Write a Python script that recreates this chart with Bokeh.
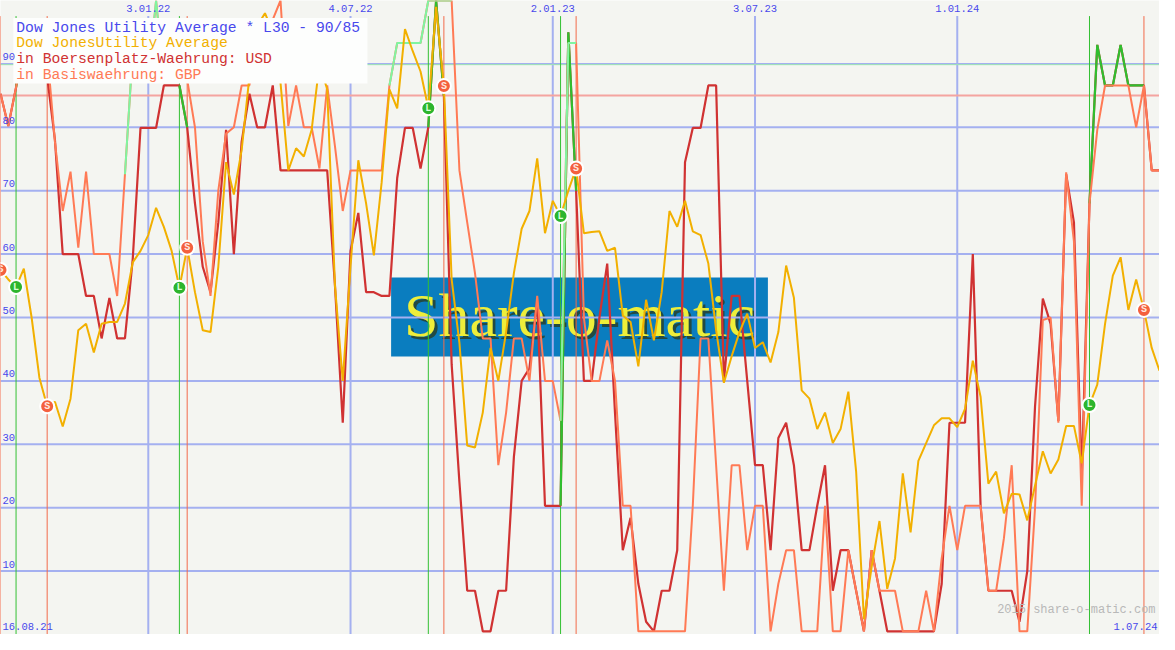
import numpy as np
import pandas as pd
from bokeh.plotting import figure
from bokeh.models import Range1d
from bokeh.core.properties import value
from bokeh.embed import file_html
from bokeh.resources import INLINE

# ---------------- data ----------------
first_week = "2021-08-23"
dates = pd.date_range(first_week, periods=150, freq="7D")

price = [57.5, 56, 54.8, 57.7, 50, 40.5, 36, 36.7, 32.8, 37.2,
         48, 49, 44.5, 49, 49.3, 49.3, 52.2, 58.7, 60.5, 63,
         67.3, 64.3, 60.5, 54.7, 61, 54, 48, 47.7, 58, 74.5,
         69.4, 76.4, 88, 96, 98, 95, 87, 73.2, 76.7, 75.4,
         79.6, 90, 86, 55, 40, 58, 74.8, 68, 59.8, 71.3,
         86, 83, 95.5, 92, 88.8, 83, 99, 86.5, 56, 46,
         29.8, 29.5, 35, 45.2, 40, 47.7, 57, 64, 66.8, 75.1,
         63.3, 68.4, 66, 70, 73.5, 63.3, 63.5, 63.6, 60.5, 61,
         50.3, 49.3, 42.3, 52.8, 46.4, 54, 66.8, 64.3, 68.4, 63.6,
         63, 58.5, 48, 39.7, 43.9, 47.7, 50.6, 45.2, 46.1, 42.9,
         47.7, 58.2, 53.1, 38.5, 37.2, 32.4, 35, 30.2, 32.4, 38.3,
         25.7, 2.4, 10.7, 17.9, 7.2, 12, 25.4, 16.1, 27.4, 30.2,
         33, 34.1, 34.1, 32.7, 35.6, 43.2, 37.5, 23.8, 25.7, 19.1,
         22.2, 22.1, 18, 23.5, 28.9, 25.4, 27.6, 32.9, 32.9, 27,
         36.2, 39.4, 49, 56.6, 59.5, 51.2, 56, 51.2, 45.2, 41.6]

usd = [85.3, 80.2, 86.3, 95, 93, 92, 88, 78, 60, 60,
       60, 53.4, 53.4, 46.7, 53.1, 46.7, 46.7, 59.2, 79.9, 79.9,
       79.9, 86.6, 86.6, 86.6, 80, 68, 58, 54, 65, 79.6,
       60, 77.7, 85.3, 80, 80, 86.6, 73.2, 73.2, 73.2, 73.2,
       73.2, 73.2, 73.2, 55, 33.4, 60.5, 66.5, 54, 54, 53.4,
       53.4, 72, 79.9, 79.9, 73.5, 80, 100, 85, 42.6, 24,
       6.9, 6.9, 0.5, 0.5, 6.9, 6.9, 28, 40, 42, 52.8,
       20.3, 20.3, 20.3, 95, 70, 40, 40, 50, 58.5, 35,
       13.3, 18.4, 8, 2, 0.5, 6.9, 6.9, 13.3, 74.5, 79.9,
       79.9, 86.6, 86.6, 40, 53.4, 53.4, 40, 26.7, 26.7, 13.3,
       31, 33.4, 26.7, 13.3, 13.3, 20.3, 26.7, 6.9, 13.3, 13.3,
       6.9, 0.5, 13.3, 6.9, 0.5, 0.5, 0.5, 0.5, 0.5, 0.5,
       0.5, 8, 33.4, 33.4, 33.4, 60, 20.3, 6.9, 6.9, 6.9,
       6.9, 2, 10, 36, 53, 49, 33.7, 72.6, 65, 24.7,
       68, 93, 86.6, 86.6, 93, 86.6, 86.6, 86.6, 73.2, 73.2]

gbp = [85.3, 80.2, 86.3, 95, 96, 95, 92, 77.7, 66.8, 73,
       61, 73, 60, 60, 60, 53.4, 72.6, 92, 87.5, 87.5,
       100, 87.5, 87.5, 87.5, 87.5, 80, 62, 53.4, 70, 79,
       80, 86.6, 86.6, 95, 88, 97, 100, 80.2, 86.6, 80,
       80, 73.5, 86.6, 77, 66.8, 73.2, 73.2, 73.2, 73.2, 73.2,
       86.6, 93.3, 93.3, 93.3, 93.3, 100, 100, 100, 100, 73.2,
       65, 57, 46.7, 46.7, 26.7, 35, 46.7, 46.7, 40, 53.4,
       40, 40, 33.7, 93.3, 93.3, 50, 40, 40, 46.4, 40,
       20.3, 20.3, 0.5, 0.5, 0.5, 0.5, 0.5, 0.5, 0.5, 20.3,
       46.7, 46.7, 26.7, 6.9, 26.7, 26.7, 13.3, 20.3, 20.3, 0.5,
       8, 13.3, 13.3, 0.5, 0.5, 0.5, 20.3, 0.5, 0.5, 13.3,
       6.9, 0.5, 13.3, 6.9, 6.9, 6.9, 0.5, 0.5, 0.5, 6.9,
       0.5, 12, 20.3, 13.3, 20.3, 20.3, 20.3, 6.9, 6.9, 15.2,
       26.7, 0.5, 0.5, 20, 49.6, 50, 33.4, 72.9, 62, 20.3,
       68, 79.6, 86.6, 86.6, 86.6, 86.6, 80, 86.6, 73.2, 73.2]

buy_dates = ["2021-09-06", "2022-01-31", "2022-09-12", "2023-01-09", "2024-04-29"]
sell_dates = ["2021-08-23", "2021-10-04", "2022-02-07", "2022-09-26", "2023-01-23", "2024-06-17"]
gbp_long = [("2021-12-13", "2022-02-07"), ("2022-08-08", "2022-10-03"), ("2023-01-09", "2023-01-23")]

tick_dates = ["2022-01-03", "2022-07-04", "2023-01-02", "2023-07-03", "2024-01-01"]
tick_labels = ["3.01.22", "4.07.22", "2.01.23", "3.07.23", "1.01.24"]
y_ticks = [10, 20, 30, 40, 50, 60, 70, 80, 90]
upper_level, lower_level = 90, 85
first_label, last_label = "16.08.21", "1.07.24"

title_lines = ["Dow Jones Utility Average * L30 - 90/85",
               "Dow JonesUtility Average",
               "in Boersenplatz-Waehrung: USD",
               "in Basiswaehrung: GBP"]

# ---------------- styles ----------------
BG = "#f4f5f1"
GRID = "#a4b0f0"
ORANGE = "#f2b000"
RED = "#d03232"
SALMON = "#ff7a55"
LGREEN = "#80f5a0"
DGREEN = "#2fbf2f"
BLUE_TXT = "#4848ec"
MONO = value("Liberation Mono")

def ms(d):
    return pd.Timestamp(d).value // 10**6

xs = (dates.asi8 // 10**6).astype(np.int64)
X0, X1 = int(xs[0]), int(xs[-1])

def px_x(px):
    return X0 + (X1 - X0) * px / 1175.0

def px_y(py):
    return 100 - py / 6.5

p = figure(width=1159, height=634, x_range=Range1d(X0, X1), y_range=Range1d(0, 100),
           output_backend="svg", toolbar_location=None, min_border=0,
           x_axis_location=None, y_axis_location=None)
p.xgrid.visible = False
p.ygrid.visible = False
p.outline_line_color = None
p.background_fill_color = BG
p.border_fill_color = BG

# watermark
p.quad(left=[px_x(396)], right=[px_x(778)], top=[px_y(284)], bottom=[px_y(365)],
       fill_color="#0a7dbf", line_color=None)
p.text(x=[px_x(590)], y=[px_y(325)], text=["Share-o-matic"], text_font=value("Liberation Serif"),
       text_font_size="62px", text_color="#2c3a18", text_alpha=0.75,
       text_align="center", text_baseline="middle")
p.text(x=[px_x(587)], y=[px_y(322)], text=["Share-o-matic"], text_font=value("Liberation Serif"),
       text_font_size="62px", text_color="#eeee3a",
       text_align="center", text_baseline="middle")

# grid
p.segment(x0=X0, x1=X1, y0=y_ticks, y1=y_ticks, line_color=GRID, line_width=2)
tick_ms = [ms(d) for d in tick_dates]
p.segment(x0=tick_ms, x1=tick_ms, y0=0, y1=px_y(16), line_color=GRID, line_width=2)

# thresholds
p.segment(x0=[X0], x1=[X1], y0=[lower_level], y1=[lower_level], line_color="#f4a4a0", line_width=2)
p.segment(x0=[X0], x1=[X1], y0=[upper_level - 0.12], y1=[upper_level - 0.12], line_color="#9fe8b0", line_width=1)

# signal lines
buy_ms = [ms(d) for d in buy_dates]
sell_ms = [ms(d) for d in sell_dates]
p.segment(x0=buy_ms, x1=buy_ms, y0=0, y1=px_y(16), line_color="#33c033", line_width=1)
p.segment(x0=sell_ms, x1=sell_ms, y0=0, y1=px_y(16), line_color="#f26a4a", line_width=1)

# series: USD first, GBP over it, price on top
p.line(xs, usd, line_color=RED, line_width=2.2)
usd_s = pd.Series(usd, index=dates)
for a, b in zip(buy_dates, sell_dates[1:]):
    seg = usd_s[a:b]
    p.line((seg.index.asi8 // 10**6), seg.values, line_color=DGREEN, line_width=2.2)

p.line(xs, gbp, line_color=SALMON, line_width=2)
gbp_s = pd.Series(gbp, index=dates)
for a, b in gbp_long:
    seg = gbp_s[a:b]
    p.line((seg.index.asi8 // 10**6), seg.values, line_color=LGREEN, line_width=2)

p.line(xs, price, line_color=ORANGE, line_width=2)

# markers on price line
price_s = pd.Series(price, index=dates)
by = [price_s[pd.Timestamp(d)] for d in buy_dates]
sy = [price_s[pd.Timestamp(d)] for d in sell_dates]
p.scatter(buy_ms, by, size=14, fill_color="#2db52d", line_color="white", line_width=2)
p.text(buy_ms, by, text=["L"] * len(by), text_font=MONO, text_font_size="10px",
       text_font_style="bold", text_color="#d8ffd8", text_align="center", text_baseline="middle")
p.scatter(sell_ms, sy, size=14, fill_color="#f4603e", line_color="white", line_width=2)
p.text(sell_ms, sy, text=["S"] * len(sy), text_font=MONO, text_font_size="10px",
       text_font_style="bold", text_color="#ffe8e0", text_align="center", text_baseline="middle")

# legend box
p.quad(left=[px_x(13)], right=[px_x(372)], top=[px_y(18)], bottom=[px_y(85)],
       fill_color="#fdfefd", line_color=None)
title_colors = [BLUE_TXT, ORANGE, RED, SALMON]
p.text(x=[px_x(16)] * 4, y=[px_y(28 + 16 * i) for i in range(4)], text=title_lines,
       text_color=title_colors, text_font=MONO, text_font_size="14.7px",
       text_align="left", text_baseline="middle")

# axis labels
p.text(x=tick_ms, y=[px_y(8)] * len(tick_ms), text=tick_labels, text_font=MONO,
       text_font_size="10.5px", text_color=BLUE_TXT, text_align="center", text_baseline="middle")
p.text(x=[px_x(2)] * len(y_ticks), y=[v + 1.1 for v in y_ticks], text=[str(v) for v in y_ticks],
       text_font=MONO, text_font_size="10.5px", text_color=BLUE_TXT,
       text_align="left", text_baseline="middle")
p.text(x=[px_x(2)], y=[px_y(642)], text=[first_label], text_font=MONO, text_font_size="10.5px",
       text_color=BLUE_TXT, text_align="left", text_baseline="middle")
p.text(x=[px_x(1173)], y=[px_y(642)], text=[last_label], text_font=MONO, text_font_size="10.5px",
       text_color=BLUE_TXT, text_align="right", text_baseline="middle")
p.text(x=[px_x(1171)], y=[px_y(625)], text=["2015 share-o-matic.com"], text_font=MONO,
       text_font_size="12px", text_color="#b8b8b8", text_align="right", text_baseline="middle")

open("out.html", "w").write(file_html(p, INLINE))
